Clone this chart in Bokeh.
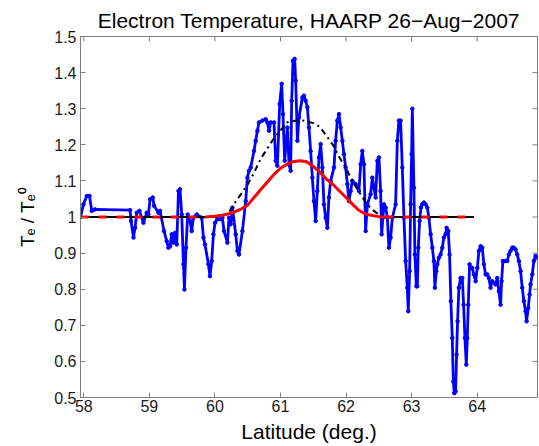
from bokeh.plotting import figure
from bokeh.models import FixedTicker, Range1d
from bokeh.embed import file_html
from bokeh.resources import INLINE
import numpy as np

# ---------------- data ----------------
blue_lat = [57.95, 57.995, 58.046, 58.087, 58.122, 58.172, 58.706, 58.721, 58.758, 58.782,
            58.808, 58.849, 58.910, 58.960, 58.986, 59.011, 59.052, 59.072, 59.139, 59.163,
            59.224, 59.265, 59.291, 59.316, 59.341, 59.367, 59.392, 59.418, 59.444, 59.468,
            59.494, 59.520, 59.535, 59.559, 59.585, 59.620, 59.646, 59.672, 59.723, 59.799,
            59.825, 59.849, 59.901, 59.925, 59.951, 59.977, 60.002, 60.038, 60.088, 60.114,
            60.139, 60.191, 60.215, 60.241, 60.267, 60.317, 60.343, 60.367, 60.419, 60.470,
            60.495, 60.520, 60.546, 60.596, 60.622, 60.648, 60.672, 60.724, 60.774, 60.800,
            60.825, 60.851, 60.901, 60.927, 60.953, 60.988, 61.018, 61.038, 61.064, 61.105,
            61.130, 61.155, 61.171, 61.191, 61.216, 61.232, 61.258, 61.282, 61.334, 61.358,
            61.384, 61.410, 61.434, 61.460, 61.486, 61.511, 61.537, 61.562, 61.587, 61.613,
            61.639, 61.663, 61.689, 61.715, 61.739, 61.765, 61.816, 61.841, 61.867, 61.892,
            61.918, 61.944, 61.968, 61.994, 62.020, 62.044, 62.070, 62.096, 62.146, 62.197,
            62.223, 62.248, 62.273, 62.299, 62.325, 62.375, 62.401, 62.451, 62.477, 62.502,
            62.527, 62.543, 62.562, 62.578, 62.604, 62.630, 62.654, 62.680, 62.706, 62.756,
            62.782, 62.806, 62.832, 62.858, 62.883, 62.909, 62.934, 62.949, 62.970, 62.985,
            63.000, 63.011, 63.035, 63.050, 63.072, 63.087, 63.102, 63.122, 63.142, 63.163,
            63.188, 63.213, 63.239, 63.264, 63.290, 63.316, 63.340, 63.355, 63.377, 63.392,
            63.416, 63.442, 63.468, 63.492, 63.518, 63.534, 63.559, 63.579, 63.599, 63.620,
            63.636, 63.651, 63.671, 63.686, 63.701, 63.721, 63.747, 63.773, 63.793, 63.813,
            63.834, 63.849, 63.864, 63.884, 63.904, 63.925, 63.950, 63.976, 64.002, 64.026,
            64.052, 64.078, 64.102, 64.128, 64.154, 64.178, 64.204, 64.230, 64.280, 64.306,
            64.331, 64.357, 64.372, 64.392, 64.422, 64.459, 64.483, 64.509, 64.535, 64.559,
            64.585, 64.611, 64.636, 64.662, 64.687, 64.712, 64.738, 64.753, 64.779, 64.799,
            64.814, 64.840, 64.864, 64.890, 64.920]
blue_val = [1.000, 1.035, 1.058, 1.058, 1.017, 1.021, 1.019, 0.989, 0.943, 0.970,
            1.012, 1.017, 0.984, 1.012, 1.007, 1.049, 1.054, 1.031, 1.012, 1.017,
            0.961, 0.933, 0.915, 0.919, 0.952, 0.929, 0.956, 0.924, 1.072, 1.077,
            1.007, 0.869, 0.799, 0.915, 1.007, 0.989, 0.961, 0.998, 1.007, 0.998,
            0.943, 0.924, 0.869, 0.836, 0.878, 0.952, 0.984, 0.994, 0.994, 0.998,
            0.961, 0.929, 0.998, 0.980, 1.026, 0.952, 0.906, 0.896, 0.961, 1.044,
            1.109, 1.128, 1.137, 1.183, 1.211, 1.239, 1.262, 1.267, 1.271, 1.262,
            1.239, 1.262, 1.262, 1.156, 1.142, 1.313, 1.369, 1.285, 1.156, 1.248,
            1.146, 1.128, 1.322, 1.433, 1.438, 1.378, 1.211, 1.276, 1.331, 1.336,
            1.322, 1.304, 1.248, 1.183, 1.109, 1.044, 0.989, 1.072, 1.165, 1.202,
            1.137, 1.035, 0.998, 0.970, 1.054, 1.100, 1.137, 1.211, 1.267, 1.285,
            1.248, 1.211, 1.174, 1.137, 1.091, 1.044, 1.072, 1.100, 1.091, 1.072,
            1.146, 1.183, 1.146, 0.961, 1.035, 1.063, 1.109, 1.054, 1.156, 1.165,
            1.072, 0.952, 0.998, 1.035, 1.026, 0.998, 0.915, 0.943, 0.998, 1.035,
            1.211, 1.267, 1.267, 1.137, 0.998, 0.878, 0.804, 0.739, 0.850, 1.035,
            1.174, 1.300, 1.081, 0.896, 0.808, 0.808, 0.915, 0.989, 1.026, 1.035,
            1.040, 1.035, 1.026, 0.998, 0.952, 0.915, 0.878, 0.804, 0.850, 0.869,
            0.887, 0.896, 0.915, 0.943, 0.952, 0.970, 0.961, 0.896, 0.767, 0.665,
            0.544, 0.512, 0.517, 0.619, 0.711, 0.804, 0.831, 0.831, 0.757, 0.665,
            0.591, 0.665, 0.757, 0.869, 0.859, 0.859, 0.841, 0.822, 0.859, 0.906,
            0.919, 0.915, 0.869, 0.841, 0.841, 0.831, 0.804, 0.822, 0.813, 0.831,
            0.794, 0.757, 0.822, 0.878, 0.878, 0.878, 0.896, 0.906, 0.915, 0.915,
            0.910, 0.896, 0.878, 0.850, 0.804, 0.767, 0.739, 0.711, 0.748, 0.785,
            0.813, 0.841, 0.878, 0.892, 0.887]

red_lat = [57.95, 59.85, 60.0, 60.15, 60.3, 60.4, 60.5, 60.6, 60.7, 60.8, 60.9, 61.0,
           61.1, 61.2, 61.3, 61.4, 61.5, 61.6, 61.7, 61.8, 61.9, 62.0, 62.1, 62.2,
           62.3, 62.4, 62.5, 62.6, 63.95]
red_val = [1.0, 1.0, 1.002, 1.006, 1.014, 1.022, 1.033, 1.055, 1.076, 1.097, 1.118, 1.135,
           1.146, 1.154, 1.156, 1.153, 1.140, 1.125, 1.105, 1.090, 1.072, 1.054, 1.035, 1.018,
           1.008, 1.004, 1.001, 1.0, 1.0]

black_lat = [57.95, 60.0, 60.1, 60.2, 60.3, 60.4, 60.5, 60.6, 60.7, 60.8, 60.9, 61.0,
             61.1, 61.2, 61.3, 61.4, 61.5, 61.6, 61.7, 61.8, 61.9, 62.0, 62.1, 62.2,
             62.3, 62.4, 62.5, 62.6, 63.95]
black_val = [1.0, 1.0, 1.003, 1.010, 1.038, 1.064, 1.090, 1.124, 1.162, 1.190, 1.218, 1.240,
             1.262, 1.266, 1.269, 1.265, 1.260, 1.250, 1.225, 1.200, 1.165, 1.135, 1.098, 1.070,
             1.040, 1.020, 1.007, 1.0, 1.0]

x_ticks = [58, 59, 60, 61, 62, 63, 64]
y_ticks = [0.5, 0.6, 0.7, 0.8, 0.9, 1.0, 1.1, 1.2, 1.3, 1.4, 1.5]
y_tick_labels = ["0.5", "0.6", "0.7", "0.8", "0.9", "1", "1.1", "1.2", "1.3", "1.4", "1.5"]

title_text = "Electron Temperature, HAARP 26\u2212Aug\u22122007"
x_label = "Latitude (deg.)"
y_label = "T\u2091 / T\u2091\u2070"

x_start, x_end = 57.95, 64.92
y_start, y_end = 0.5, 1.5

# ---------------- figure ----------------
FONT = "Liberation Sans"
AX_COL = "#7f7f7f"

p = figure(frame_width=457, frame_height=361,
           x_range=Range1d(x_start, x_end), y_range=Range1d(y_start, y_end),
           output_backend="svg", toolbar_location=None,
           min_border_left=80, min_border_top=36, min_border_bottom=49, min_border_right=1,
           background_fill_color="white", border_fill_color="white")
p.outline_line_color = AX_COL
p.outline_line_width = 1
p.grid.visible = False

p.title.text = title_text
p.title.align = "center"
p.title.text_font = FONT
p.title.text_font_size = "21px"
p.title.text_font_style = "normal"
p.title.text_color = "black"
p.title.standoff = 9
p.title.offset = 0

xt = FixedTicker(ticks=x_ticks)
yt = FixedTicker(ticks=y_ticks)

for ax in p.xaxis:
    ax.ticker = xt
    ax.axis_label = x_label
for ax in p.yaxis:
    ax.ticker = yt
    ax.axis_label = y_label
    ax.major_label_overrides = {t: s for t, s in zip(y_ticks, y_tick_labels)}

for ax in list(p.xaxis) + list(p.yaxis):
    ax.axis_line_color = AX_COL
    ax.major_tick_line_color = AX_COL
    ax.major_tick_in = 5
    ax.major_tick_out = 0
    ax.minor_tick_line_color = None
    ax.major_label_text_font = FONT
    ax.major_label_text_font_size = "16px"
    ax.major_label_text_color = "#1a1a1a"
    ax.axis_label_text_font = FONT
    ax.axis_label_text_font_style = "normal"
    ax.axis_label_text_color = "black"
p.xaxis.axis_label_text_font_size = "21px"
p.yaxis.axis_label_text_font_size = "19px"
p.xaxis.major_label_standoff = 2
p.xaxis.axis_label_standoff = 5
p.yaxis.major_label_standoff = 4
p.yaxis.axis_label_standoff = 13

# tick marks on the top and right edges of the box
p.ray(x=x_ticks, y=[y_end] * len(x_ticks), length=5, length_units="screen",
      angle=-np.pi / 2, line_color=AX_COL, line_width=1)
p.ray(x=[x_end] * len(y_ticks), y=y_ticks, length=5, length_units="screen",
      angle=np.pi, line_color=AX_COL, line_width=1)

# ---------------- glyphs ----------------
bl = np.array(blue_lat)
bv = np.array(blue_val)
p.line(bl, bv, line_color="#0000ff", line_width=2.8, line_join="round")
p.scatter(bl, bv, marker="circle", size=3.5, fill_color="#0000ff", line_color="#0000ff")

kl = np.array(black_lat)
kv = np.array(black_val)
n_k = np.arange(len(kl))
kidx = np.where(kv > 1.0)[0]
k_first = n_k <= kidx.min() - 1
k_last = n_k >= kidx.max() + 1
k_curve = (n_k >= kidx.min() - 1) & (n_k <= kidx.max() + 1)
p.line(kl[k_first], kv[k_first], line_color="black", line_width=2.2)
p.line(kl[k_last], kv[k_last], line_color="black", line_width=2.2)
p.line(kl[k_curve], kv[k_curve], line_color="black", line_width=2, line_dash="6 4 2 4")

rl = np.array(red_lat)
rv = np.array(red_val)
n_r = np.arange(len(rl))
ridx = np.where(rv > 1.0)[0]
r_first = n_r <= ridx.min() - 1
r_last = n_r >= ridx.max() + 1
r_curve = (n_r >= ridx.min() - 1) & (n_r <= ridx.max() + 1)
p.line(rl[r_first], rv[r_first], line_color="#ff0000", line_width=3, line_dash="8 10")
p.line(rl[r_last], rv[r_last], line_color="#ff0000", line_width=3, line_dash="8 10")
p.line(rl[r_curve], rv[r_curve], line_color="#ff0000", line_width=3)

open("out.html", "w").write(file_html(p, INLINE))
